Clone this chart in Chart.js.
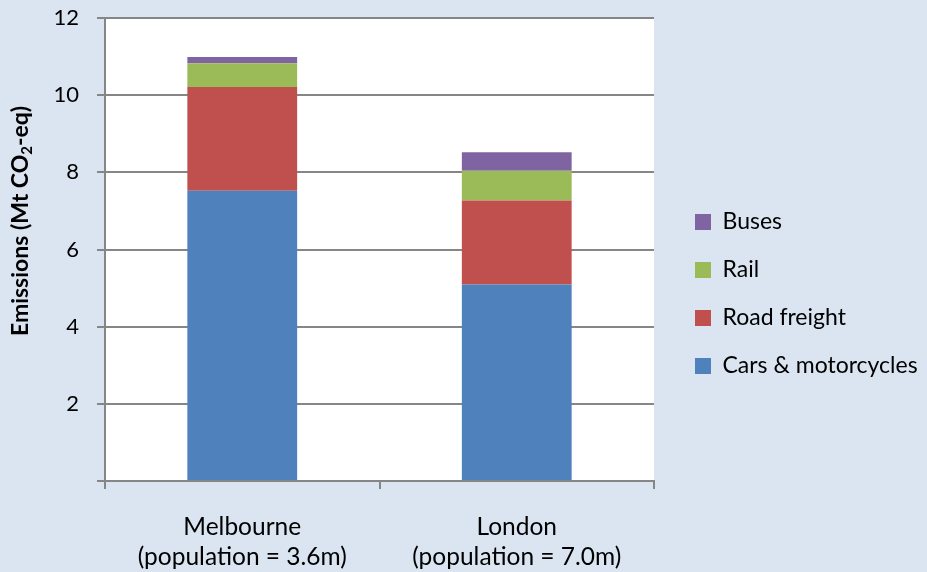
<!DOCTYPE html>
<html>
<head>
<meta charset="utf-8">
<script src="https://cdn.jsdelivr.net/npm/chart.js@4.4.0/dist/chart.umd.min.js"></script>
<style>
  html, body { margin: 0; padding: 0; background: #DBE5F1; }
  #wrap { width: 927px; height: 572px; }
  canvas { display: block; }
</style>
</head>
<body>
<div id="wrap"><canvas id="chart" width="927" height="572"></canvas></div>
<script>
// Transport emissions by city, Mt CO2-eq
const cities = [
  ['Melbourne', '(population = 3.6m)'],
  ['London', '(population = 7.0m)']
];
const carsMotorcycles = [7.52, 5.09];
const roadFreight = [2.69, 2.18];
const rail = [0.62, 0.77];
const buses = [0.16, 0.48];
const seriesNames = ['Cars & motorcycles', 'Road freight', 'Rail', 'Buses'];
const yMin = 0, yMax = 12, yStep = 2;
const yTitleParts = ['Emissions (Mt CO', '2', '-eq)'];

const FONT = 'Lato, "Open Sans", sans-serif';
const AXIS_GREY = '#868686';
const PLOT_RIGHT = 654;

// page background + white plot area
const backdrop = {
  id: 'backdrop',
  beforeDraw(chart) {
    const { ctx, chartArea: a } = chart;
    ctx.save();
    ctx.fillStyle = '#DBE5F1';
    ctx.fillRect(0, 0, chart.width, chart.height);
    ctx.fillStyle = '#FFFFFF';
    ctx.fillRect(a.left, a.top, a.right - a.left, a.bottom - a.top);
    ctx.restore();
  }
};

// rotated y-axis title with a subscript "2"
const yTitle = {
  id: 'yTitle',
  afterDraw(chart) {
    const { ctx } = chart;
    const big = 'bold 23px ' + FONT;
    const small = 'bold 15px ' + FONT;
    ctx.save();
    ctx.font = big;
    const w0 = ctx.measureText(yTitleParts[0]).width;
    const w2 = ctx.measureText(yTitleParts[2]).width;
    ctx.font = small;
    const w1 = ctx.measureText(yTitleParts[1]).width;
    const total = w0 + w1 + w2;
    ctx.translate(28, 221);
    ctx.rotate(-Math.PI / 2);
    ctx.fillStyle = '#000';
    ctx.textBaseline = 'alphabetic';
    ctx.textAlign = 'left';
    let x = -total / 2;
    ctx.font = big;
    ctx.fillText(yTitleParts[0], x, 0);
    x += w0;
    ctx.font = small;
    ctx.fillText(yTitleParts[1], x, 4);
    x += w1;
    ctx.font = big;
    ctx.fillText(yTitleParts[2], x, 0);
    ctx.restore();
  }
};

// place the legend block beside the plot
const legendPlacement = {
  id: 'legendPlacement',
  afterLayout(chart) {
    const lg = chart.legend;
    if (!lg) return;
    const dx = 670 - lg.left;
    lg.left += dx; lg.right += dx;
    const dy = (588 - (lg.top + lg.bottom)) / 2;
    lg.top += dy; lg.bottom += dy;
  }
};

const data = {
  labels: cities,
  datasets: [
    { label: seriesNames[0], data: carsMotorcycles, backgroundColor: '#4F81BD' },
    { label: seriesNames[1], data: roadFreight, backgroundColor: '#C0504D' },
    { label: seriesNames[2], data: rail, backgroundColor: '#9BBB59' },
    { label: seriesNames[3], data: buses, backgroundColor: '#8064A2' }
  ].map(d => Object.assign(d, { borderWidth: 0, barPercentage: 0.4, categoryPercentage: 1.0 }))
};

const chart = new Chart(document.getElementById('chart'), {
  type: 'bar',
  data,
  plugins: [backdrop, yTitle, legendPlacement],
  options: {
    responsive: false,
    animation: false,
    layout: { padding: { top: 18, left: 0, right: 0, bottom: 0 } },
    plugins: {
      tooltip: { enabled: false },
      legend: {
        position: 'right',
        reverse: true,
        maxWidth: 400,
        labels: {
          boxWidth: 16,
          boxHeight: 16,
          padding: 25,
          color: '#000',
          font: { family: FONT, size: 23 }
        }
      }
    },
    scales: {
      x: {
        stacked: true,
        offset: true,
        grid: { display: true, drawOnChartArea: false, drawTicks: true, tickLength: 8, offset: true, color: AXIS_GREY, lineWidth: 2 },
        border: { display: true, color: AXIS_GREY, width: 2 },
        ticks: { color: '#000', font: { family: FONT, size: 24.5, lineHeight: 1.22 }, padding: 23.5, maxRotation: 0, autoSkip: false },
        afterFit(s) { s.height = 91; s.paddingLeft = 0; s.paddingRight = 0; }
      },
      y: {
        stacked: true,
        min: yMin,
        max: yMax,
        grid: { color: AXIS_GREY, lineWidth: 2, tickLength: 8, drawTicks: true },
        border: { display: true, color: AXIS_GREY, width: 2 },
        ticks: {
          stepSize: yStep,
          padding: 18,
          color: '#000',
          font: { family: FONT, size: 22 },
          callback: v => (v === 0 ? '' : v)
        },
        afterFit(s) { s.width = 105; s.paddingTop = 0; s.paddingBottom = 0; }
      }
    }
  }
});

// keep the plot's right edge fixed next to the legend
chart.options.layout.padding = { top: 18, left: 0, bottom: 0, right: Math.max(0, chart.width - PLOT_RIGHT - chart.legend.width) };
chart.update();
</script>
</body>
</html>
